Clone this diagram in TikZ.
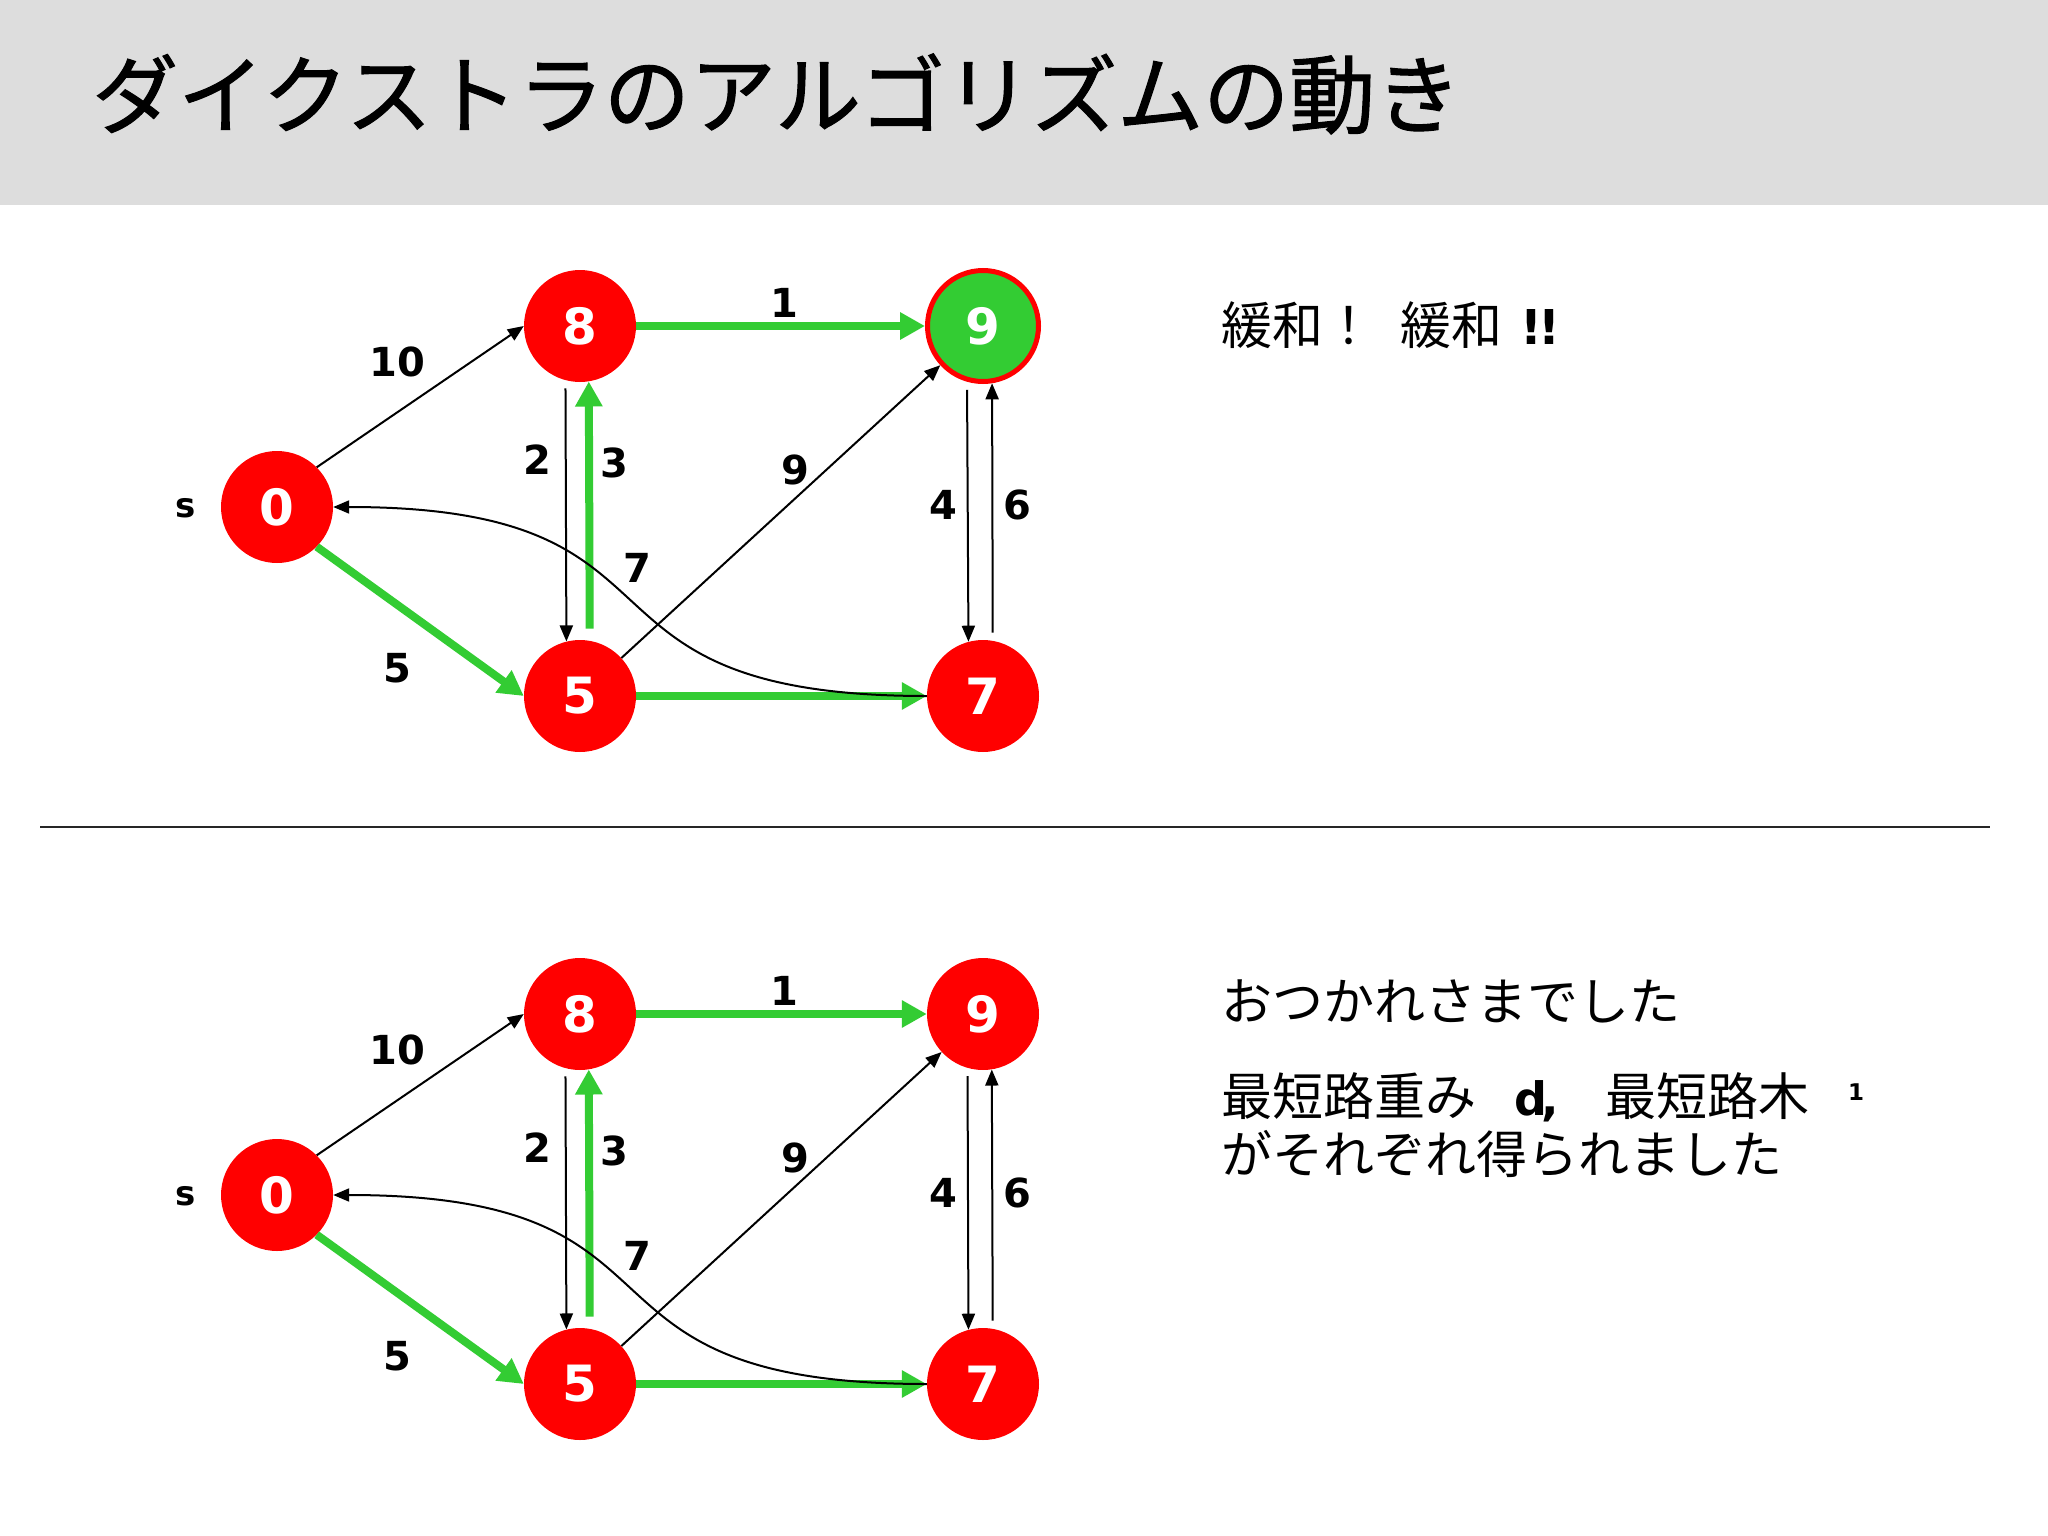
\documentclass[tikz,border=0pt]{standalone}
\usepackage{fontspec}
\setmainfont{Noto Sans CJK JP}
\newfontfamily\numfont{DejaVu Sans}
\newfontfamily\titlefont{Noto Sans CJK JP}[FakeBold=1.2]
\usetikzlibrary{arrows.meta}
\definecolor{nodered}{HTML}{FF0000}
\definecolor{edgegreen}{HTML}{33CC33}
\definecolor{headgray}{HTML}{DDDDDD}
\tikzset{
  vtx/.style={circle, fill=nodered, minimum size=112pt, inner sep=0pt, text=white,
    font=\numfont\bfseries\fontsize{50}{50}\selectfont},
  vtxdone/.style={vtx, fill=edgegreen, draw=nodered, line width=5pt, minimum size=111pt},
  plainedge/.style={draw=black, line width=2pt, -{Triangle[length=16pt,width=13pt]}},
  treeedge/.style={draw=edgegreen, line width=8pt, -{Triangle[length=25pt,width=26pt]}},
  wlabel/.style={font=\numfont\bfseries\fontsize{40}{40}\selectfont, inner sep=0pt},
  slabel/.style={font=\numfont\bfseries\fontsize{34}{34}\selectfont, inner sep=0pt},
  jtext/.style={font=\fontsize{51}{51}\selectfont, inner sep=0pt, anchor=base west},
}
\newcommand\dgraph[3]{%
\begin{scope}[yshift=#2]
  \node[vtx] (#1n0) at (277,507) {0};
  \node[vtx] (#1n8) at (580,326) {8};
  \node[#3] (#1n9) at (983,326) {9};
  \node[vtx] (#1n5) at (580,696) {5};
  \node[vtx] (#1n7) at (983,696) {7};
  \node[slabel] (#1s) at (186,508) {s};
  % tree edges
  \draw[treeedge] (#1n0.-45) -- (#1n5.west);
  \draw[treeedge] (#1n8.east) -- (#1n9.west);
  \draw[treeedge, shorten <=12pt] (#1n5.80.8) -- (#1n8.279.2);
  \draw[treeedge] (#1n5.east) -- (#1n7.west);
  % plain edges
  \draw[plainedge] (#1n0.45) -- (#1n8.west);
  \draw[plainedge, shorten <=8pt] (#1n8.255.5) -- (#1n5.104.5);
  \draw[plainedge] (#1n5) -- (#1n9);
  \draw[plainedge, shorten <=8pt] (#1n9.254.5) -- (#1n7.105.5);
  \draw[plainedge, shorten <=8pt] (#1n7.80.8) -- (#1n9.279.2);
  \draw[plainedge] (#1n7.west) .. controls +(-380,0) and +(380,0) .. (#1n0.east);
  % weights
  \node[wlabel] (#1w10) at (397,362) {10};
  \node[wlabel] (#1w5) at (397,668) {5};
  \node[wlabel] (#1w1) at (784,303) {1};
  \node[wlabel] (#1w2) at (537,460) {2};
  \node[wlabel] (#1w3) at (614,463) {3};
  \node[wlabel] (#1w9) at (795,470) {9};
  \node[wlabel] (#1w4) at (943,505) {4};
  \node[wlabel] (#1w6) at (1017,505) {6};
  \node[wlabel] (#1w7) at (637,568) {7};
\end{scope}}
\begin{document}
\begin{tikzpicture}[x=1pt,y=-1pt]
  \useasboundingbox (0,0) rectangle (2048,1536);
  \fill[white] (0,0) rectangle (2048,1536);
  \fill[headgray] (0,0) rectangle (2048,205);
  \node[anchor=base west, inner sep=0pt, font=\titlefont\fontsize{86}{86}\selectfont] (title) at (92,127) {ダイクストラのアルゴリズムの動き};
  \draw[black!85, line width=2.5pt] (40,827) -- (1990,827);

  \dgraph{a}{0pt}{vtxdone}
  \dgraph{b}{-688pt}{vtx}

  \node[jtext] (t1) at (1221,344) {緩和！};
  \node[jtext] (t2) at (1400,344) {緩和};
  \node[jtext, font=\numfont\bfseries\fontsize{48}{48}\selectfont] (t3) at (1520,344) {!\kern-4pt!};

  \node[jtext] (u1) at (1221,1020) {おつかれさまでした};
  \node[jtext] (u2) at (1221,1115) {最短路重み};
  \node[jtext, font=\numfont\bfseries\fontsize{46}{46}\selectfont] (u3) at (1514,1115) {d\kern-6pt,};
  \node[jtext] (u4) at (1605,1115) {最短路木};
  \node[inner sep=0pt, anchor=north, font=\numfont\bfseries\fontsize{23}{23}\selectfont] (u5) at (1856,1084) {1};
  \node[jtext] (u6) at (1221,1173) {がそれぞれ得られました};
\end{tikzpicture}
\end{document}
